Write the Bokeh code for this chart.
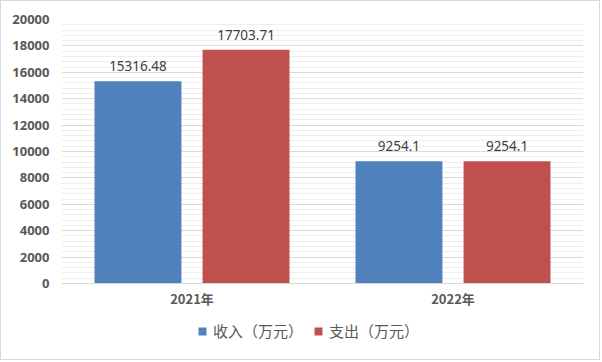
from bokeh.plotting import figure
from bokeh.layouts import column
from bokeh.models import FactorRange, Range1d, SingleIntervalTicker, Legend, LegendItem, ColumnDataSource
from bokeh.transform import dodge
from bokeh.core.properties import value
from bokeh.embed import file_html
from bokeh.resources import INLINE

years = ["2021年", "2022年"]
income = [15316.48, 9254.1]
expense = [17703.71, 9254.1]
income_labels = ["15316.48", "9254.1"]
expense_labels = ["17703.71", "9254.1"]
series_names = ["收入（万元）", "支出（万元）"]
colors = ["#4F81BD", "#C0504D"]

src = ColumnDataSource(dict(x=years, inc=income, exp=expense,
                            inc_lab=income_labels, exp_lab=expense_labels))

p = figure(width=598, height=314, x_range=FactorRange(*years, range_padding=0),
           y_range=Range1d(0, 20000), output_backend="svg", toolbar_location=None,
           min_border_left=60, min_border_right=16, min_border_top=18, min_border_bottom=32)
p.outline_line_color = None
p.background_fill_color = "white"

off = 0.207
w = 0.333
p.vbar(x=dodge("x", -off, range=p.x_range), top="inc", width=w, source=src,
       fill_color=colors[0], line_color=None)
p.vbar(x=dodge("x", off, range=p.x_range), top="exp", width=w, source=src,
       fill_color=colors[1], line_color=None)

for col, lab, sign in (("inc", "inc_lab", -1), ("exp", "exp_lab", 1)):
    p.text(x=dodge("x", sign * off, range=p.x_range), y=col, text=lab, source=src,
           text_align="center", text_baseline="bottom", y_offset=-10,
           text_font=value("Noto Sans"), text_font_size="13.5px", text_color="#404040")

p.yaxis.ticker = SingleIntervalTicker(interval=2000, num_minor_ticks=5)
p.yaxis.axis_line_color = None
p.yaxis.major_tick_line_color = None
p.yaxis.minor_tick_line_color = None
p.yaxis.major_tick_out = 0
p.yaxis.minor_tick_out = 0
p.yaxis.major_label_text_font = "Noto Sans"
p.yaxis.major_label_text_font_style = "bold"
p.yaxis.major_label_text_font_size = "13px"
p.yaxis.major_label_text_color = "#595959"
p.yaxis.major_label_standoff = 12

p.xaxis.axis_line_color = "#d9d9d9"
p.xaxis.major_tick_line_color = None
p.xaxis.minor_tick_line_color = None
p.xaxis.major_tick_out = 0
p.xaxis.minor_tick_out = 0
p.xaxis.major_label_text_font = "Noto Sans CJK SC"
p.xaxis.major_label_text_font_style = "bold"
p.xaxis.major_label_text_font_size = "13px"
p.xaxis.major_label_text_color = "#595959"
p.xaxis.major_label_standoff = 5

p.xgrid.grid_line_color = None
p.ygrid.grid_line_color = "#d9d9d9"
p.ygrid.minor_grid_line_color = "#eeeeee"

# legend strip (its bars lie outside the visible range; only the legend shows)
p2 = figure(width=598, height=44, x_range=FactorRange(*years, range_padding=0),
            y_range=Range1d(-2, -1), output_backend="svg", toolbar_location=None,
            x_axis_location=None, y_axis_location=None,
            min_border_left=0, min_border_right=0, min_border_top=0, min_border_bottom=0)
p2.grid.grid_line_color = None
p2.outline_line_color = None
l1 = p2.vbar(x="x", top="inc", width=0.0001, source=src, fill_color=colors[0], line_color=None)
l2 = p2.vbar(x="x", top="exp", width=0.0001, source=src, fill_color=colors[1], line_color=None)
legend = Legend(items=[LegendItem(label=series_names[0], renderers=[l1]),
                       LegendItem(label=series_names[1], renderers=[l2])],
                orientation="horizontal", location=(136, 18),
                label_text_font="Noto Sans CJK SC", label_text_font_size="15px",
                label_text_color="#595959", glyph_width=10, glyph_height=10,
                spacing=10, label_standoff=6, border_line_color=None,
                background_fill_alpha=0, margin=0, padding=4)
p2.add_layout(legend, "center")

layout = column(p, p2, spacing=0)
layout.styles = {"border": "1px solid #d9d9d9"}

open("out.html", "w").write(file_html(layout, INLINE))
